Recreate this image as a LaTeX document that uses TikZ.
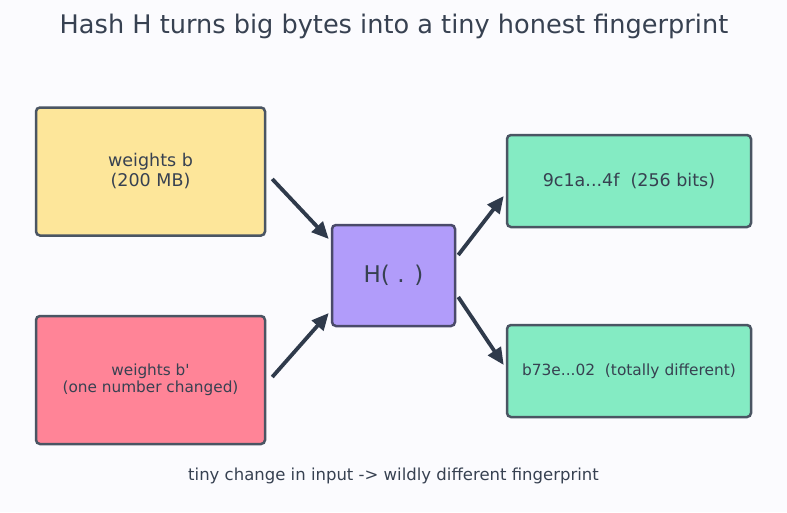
\documentclass[tikz,border=0pt]{standalone}
\usepackage{fontspec}
\setmainfont{DejaVu Sans}
\usetikzlibrary{positioning, calc, arrows.meta}
\definecolor{Ink}{HTML}{374151}
\definecolor{Edge}{HTML}{4A5563}
\definecolor{EdgeH}{HTML}{4A4A6A}
\definecolor{Shaft}{HTML}{2F3A4B}
\definecolor{Paper}{HTML}{FBFBFE}
\definecolor{Sand}{HTML}{FDE69A}
\definecolor{Rose}{HTML}{FF8497}
\definecolor{Lilac}{HTML}{B19CFA}
\definecolor{Mint}{HTML}{84EBC3}
\tikzset{
    box/.style={rectangle, rounded corners=4pt, draw=Edge, line width=2.5pt, text=Ink, align=center, inner sep=0pt},
    inbox/.style={box, minimum width=229pt, minimum height=128pt},
    outbox/.style={box, fill=Mint, minimum width=244pt, minimum height=92pt},
    arrow/.style={-{Triangle[length=17pt, width=15pt]}, line width=3.8pt, color=Shaft},
}
\begin{document}
\begin{tikzpicture}[x=1pt, y=-1pt]
    \useasboundingbox[fill=Paper] (0,0) rectangle (787,512);
    % Title and caption
    \node[text=Ink, font=\fontsize{25.6}{30}\selectfont] (title) at (394,26) {Hash H turns big bytes into a tiny honest fingerprint};
    \node[text=Ink, font=\fontsize{16.5}{20}\selectfont] (caption) at (393.5,475.5) {tiny change in input -> wildly different fingerprint};
    % Inputs
    \node[inbox, fill=Sand, font=\fontsize{17.5}{20}\selectfont] (b) at (150.5,171.5) {weights b\\(200 MB)};
    \node[inbox, fill=Rose, font=\fontsize{15.3}{17}\selectfont] (bp) at (150.5,380) {weights b\textquotesingle\\(one number changed)};
    % Hash
    \node[box, fill=Lilac, draw=EdgeH, minimum width=123pt, minimum height=101pt, font=\fontsize{23}{26}\selectfont] (hash) at (393.5,275.5) {H( . )};
    % Digests
    \node[outbox, font=\fontsize{17.5}{20}\selectfont] (d1) at (629,181) {9c1a...4f\ \ (256 bits)};
    \node[outbox, font=\fontsize{15.4}{18}\selectfont] (d2) at (629,371) {b73e...02\ \ (totally different)};
    % Arrows
    \draw[arrow] ([shift={(6,7.5)}]b.east) -- ([shift={(-2,-36.5)}]hash.west);
    \draw[arrow] ([shift={(6,-3)}]bp.east) -- ([shift={(-2,37.5)}]hash.west);
    \draw[arrow] ([shift={(2,-20.5)}]hash.east) -- ([shift={(-2,15)}]d1.west);
    \draw[arrow] ([shift={(2,21.5)}]hash.east) -- ([shift={(-2,-6)}]d2.west);
\end{tikzpicture}
\end{document}
